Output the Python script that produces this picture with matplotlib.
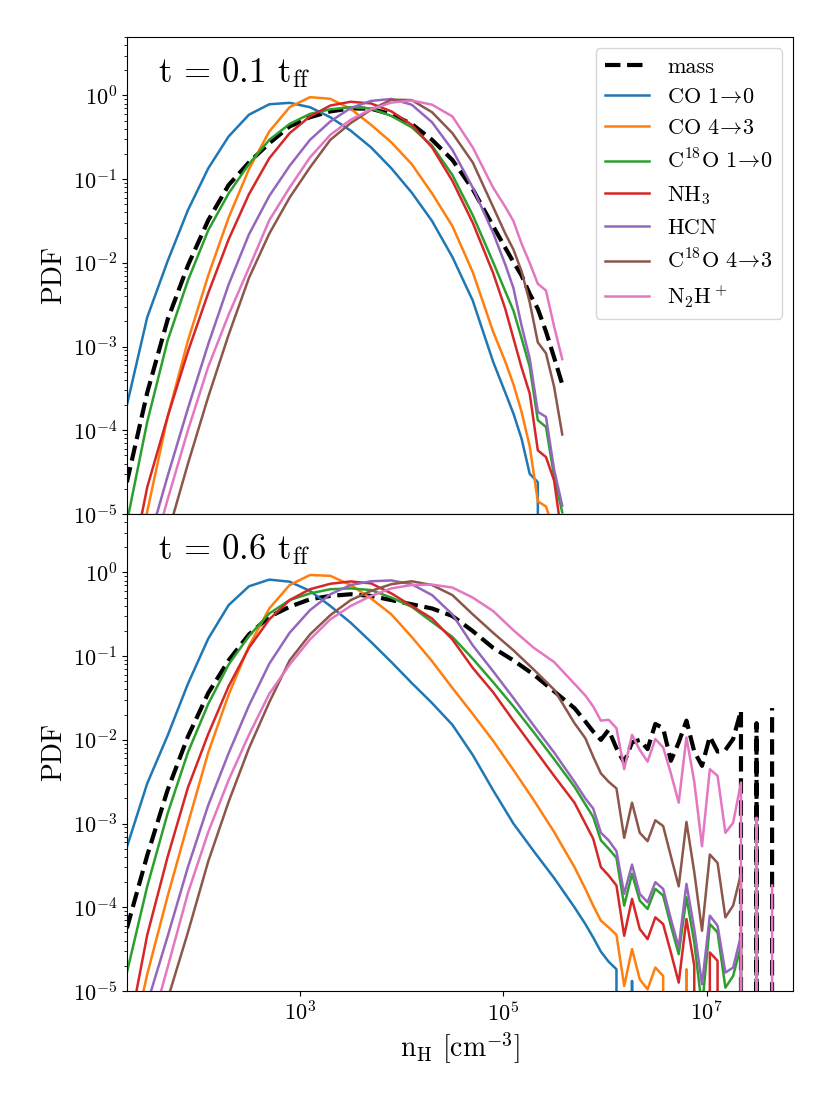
import numpy as np
import matplotlib.pyplot as plt
from matplotlib.ticker import FixedLocator, NullLocator

plt.rcParams['font.family'] = 'serif'
plt.rcParams['font.serif'] = ['cmr10']
plt.rcParams['mathtext.fontset'] = 'cm'
plt.rcParams['axes.formatter.use_mathtext'] = True

NEG = -np.inf  # empty bin

# ---- data: log10 of n_H (bin centres) and log10 of PDF ----
logn_top = [1.3, 1.5, 1.7, 1.9, 2.1, 2.3, 2.5, 2.7, 2.9, 3.1, 3.3, 3.5, 3.7, 3.9,
            4.1, 4.3, 4.5, 4.7, 4.9, 5.02, 5.10, 5.18, 5.26, 5.34, 5.42, 5.50, 5.58]

mass_top = [-4.62, -3.55, -2.68, -2.03, -1.49, -1.07, -0.80, -0.57, -0.37, -0.26, -0.19, -0.155, -0.158, -0.225,
            -0.34, -0.53, -0.77, -1.12, -1.56, -1.82, -1.99, -2.15, -2.37, -2.55, -2.82, -3.13, -3.45]
co10_top = [-3.70, -2.65, -1.98, -1.37, -0.87, -0.49, -0.23, -0.105, -0.088, -0.14, -0.26, -0.42, -0.62, -0.87,
            -1.16, -1.50, -1.93, -2.45, -3.18, -3.55, -3.80, -4.10, -4.52, -4.62, NEG, NEG, NEG]
co43_top = [-6.1, -4.97, -3.84, -2.93, -2.15, -1.46, -0.88, -0.43, -0.14, -0.02, -0.04, -0.16, -0.35, -0.56,
            -0.82, -1.17, -1.56, -2.11, -2.82, -3.18, -3.45, -3.78, -4.19, -4.85, -4.91, -5.2, NEG]
c18o10_top = [-5.1, -3.9, -2.93, -2.21, -1.61, -1.17, -0.82, -0.53, -0.34, -0.22, -0.165, -0.14, -0.155, -0.245,
              -0.38, -0.6, -0.95, -1.43, -1.99, -2.34, -2.57, -2.9, -3.24, -3.88, -3.96, -4.55, -4.98]
nh3_top = [-5.9, -4.68, -3.84, -3.06, -2.36, -1.72, -1.18, -0.75, -0.45, -0.25, -0.12, -0.075, -0.095, -0.19,
           -0.35, -0.62, -1.02, -1.52, -2.12, -2.55, -2.9, -3.25, -3.56, -4.24, -4.32, -4.6, -5.3]
hcn_top = [-6.6, -5.4, -4.55, -3.74, -2.97, -2.26, -1.66, -1.2, -0.84, -0.53, -0.31, -0.15, -0.065, -0.042,
           -0.11, -0.32, -0.65, -1.1, -1.64, -2.02, -2.3, -2.75, -3.14, -3.78, -3.84, -4.47, -4.9]
c18o43_top = [-7.2, -6.2, -5.25, -4.4, -3.6, -2.86, -2.18, -1.65, -1.22, -0.86, -0.53, -0.33, -0.17, -0.05,
              -0.055, -0.2, -0.45, -0.8, -1.33, -1.65, -1.84, -2.1, -2.47, -2.95, -3.08, -3.48, -4.05]
n2hp_top = [-7.0, -5.7, -4.83, -4.0, -3.24, -2.62, -2.06, -1.49, -1.1, -0.74, -0.47, -0.29, -0.165, -0.085,
            -0.06, -0.11, -0.25, -0.62, -1.1, -1.33, -1.5, -1.77, -2.0, -2.25, -2.33, -2.76, -3.15]

logn_bot = [1.3, 1.5, 1.7, 1.9, 2.1, 2.3, 2.5, 2.7, 2.9, 3.1, 3.3, 3.5, 3.7, 3.9,
            4.1, 4.3, 4.5, 4.7, 4.9, 5.1, 5.3, 5.5, 5.7,
            5.807, 5.884, 5.960, 6.036, 6.113, 6.189, 6.266, 6.342, 6.419, 6.495, 6.572, 6.648, 6.725,
            6.801, 6.878, 6.954, 7.031, 7.107, 7.184, 7.260, 7.337, 7.413, 7.490, 7.566, 7.643]

mass_bot = [-4.25, -3.38, -2.6, -1.96, -1.44, -1.05, -0.74, -0.53, -0.41, -0.32, -0.28, -0.26, -0.28, -0.33,
            -0.38, -0.43, -0.52, -0.70, -0.9, -1.05, -1.22, -1.42, -1.62,
            -1.78, -1.9, -2.0, -1.88, -2.1, -2.27, -2.03, -2.0, -2.11, -1.81, -1.86, -2.25, -2.03,
            -1.77, -2.14, -2.31, -1.96, -2.14, -2.12, -1.99, -1.65, NEG, -1.8, NEG, -1.62]
co10_bot = [-3.28, -2.52, -1.95, -1.33, -0.79, -0.39, -0.165, -0.085, -0.11, -0.22, -0.40, -0.60, -0.83, -1.07,
            -1.32, -1.56, -1.82, -2.18, -2.6, -3.0, -3.33, -3.65, -4.0,
            -4.2, -4.36, -4.53, -4.65, -4.74, NEG, -4.88, NEG, NEG, NEG, NEG, NEG, NEG,
            NEG, NEG, NEG, NEG, NEG, NEG, NEG, NEG, NEG, NEG, NEG, NEG]
co43_bot = [-5.9, -4.8, -3.87, -3.0, -2.15, -1.46, -0.88, -0.43, -0.15, -0.03, -0.04, -0.15, -0.31, -0.5,
            -0.77, -1.06, -1.38, -1.69, -2.01, -2.36, -2.72, -3.1, -3.52,
            -3.78, -3.98, -4.16, -4.24, -4.33, -4.94, -4.5, -4.86, -4.98, -4.72, -4.82, NEG, NEG,
            -4.74, NEG, NEG, NEG, NEG, NEG, NEG, NEG, NEG, NEG, NEG, NEG]
c18o10_bot = [-4.78, -3.75, -2.88, -2.15, -1.57, -1.1, -0.76, -0.49, -0.33, -0.25, -0.2, -0.19, -0.21, -0.3,
              -0.41, -0.59, -0.77, -1.03, -1.31, -1.6, -1.91, -2.23, -2.56,
              -2.77, -2.92, -3.2, -3.3, -3.41, -3.98, -3.6, -3.92, -4.02, -3.78, -3.86, -4.22, -4.56,
              -3.88, -4.42, -5.2, -4.2, -4.3, -4.96, -4.82, -4.46, NEG, NEG, NEG, NEG]
nh3_bot = [-5.6, -4.33, -3.4, -2.57, -1.93, -1.36, -0.9, -0.56, -0.33, -0.2, -0.135, -0.107, -0.13, -0.25,
           -0.4, -0.55, -0.8, -1.14, -1.43, -1.77, -2.1, -2.43, -2.75,
           -3.0, -3.18, -3.52, -3.62, -3.74, -4.34, -3.9, -4.26, -4.38, -4.12, -4.2, -4.54, -4.9,
           -4.14, -4.7, NEG, -4.54, -4.64, NEG, -5.2, NEG, NEG, NEG, NEG, NEG]
hcn_bot = [-6.2, -5.15, -4.35, -3.52, -2.78, -2.16, -1.59, -1.09, -0.72, -0.45, -0.26, -0.15, -0.105, -0.095,
           -0.14, -0.27, -0.5, -0.87, -1.18, -1.5, -1.83, -2.15, -2.5,
           -2.7, -2.82, -3.11, -3.2, -3.33, -3.84, -3.49, -3.84, -3.94, -3.70, -3.78, -4.14, -4.48,
           -3.72, -4.26, -4.92, -4.10, -4.22, -4.78, -4.72, -4.34, NEG, NEG, NEG, NEG]
c18o43_bot = [-7.0, -6.0, -5.1, -4.3, -3.45, -2.74, -2.1, -1.55, -1.05, -0.74, -0.51, -0.33, -0.22, -0.14,
              -0.105, -0.15, -0.27, -0.5, -0.72, -0.93, -1.16, -1.4, -1.8,
              -1.98, -2.2, -2.4, -2.5, -2.58, -3.17, -2.75, -3.11, -3.21, -2.96, -3.03, -3.39, -3.75,
              -2.98, -3.58, -4.28, -3.37, -3.47, -4.12, -3.98, -3.6, NEG, NEG, NEG, NEG]
n2hp_bot = [-6.5, -5.6, -4.72, -3.83, -3.1, -2.48, -1.94, -1.45, -1.1, -0.8, -0.56, -0.4, -0.28, -0.19,
            -0.15, -0.145, -0.18, -0.3, -0.46, -0.69, -0.9, -1.07, -1.33,
            -1.47, -1.6, -1.77, -1.76, -1.86, -2.35, -1.94, -2.12, -2.26, -1.99, -2.09, -2.4, -2.75,
            -1.97, -2.5, -3.27, -2.35, -2.43, -3.11, -2.99, -2.51, NEG, -2.93, NEG, -3.74]

times = ['0.1', '0.6']
labels = ['mass', r'CO $1\!\rightarrow\!0$', r'CO $4\!\rightarrow\!3$',
          r'C$^{18}$O $1\!\rightarrow\!0$', r'NH$_3$', 'HCN',
          r'C$^{18}$O $4\!\rightarrow\!3$', r'N$_2$H$^+$']
colors = ['k', 'C0', 'C1', 'C2', 'C3', 'C4', 'C5', 'C6']
xticks = [1e3, 1e5, 1e7]

panels = [
    (logn_top, [mass_top, co10_top, co43_top, c18o10_top, nh3_top, hcn_top, c18o43_top, n2hp_top]),
    (logn_bot, [mass_bot, co10_bot, co43_bot, c18o10_bot, nh3_bot, hcn_bot, c18o43_bot, n2hp_bot]),
]

fig, axes = plt.subplots(2, 1, sharex=True, figsize=(8.3, 11.07), dpi=100)
fig.subplots_adjust(left=0.153, right=0.955, top=0.9666, bottom=0.1048, hspace=0)

for ax, (logn, series), t in zip(axes, panels, times):
    n = 10.0 ** np.array(logn)
    for vals, lab, col in zip(series, labels, colors):
        pdf = 10.0 ** np.array(vals)
        if lab == 'mass':
            ax.plot(n, pdf, color=col, ls='--', lw=3, label=lab)
        else:
            ax.plot(n, pdf, color=col, lw=1.8, label=lab)
    ax.set_xscale('log')
    ax.set_yscale('log')
    ax.set_xlim(20, 7e7)
    ax.set_ylim(1e-5, 5)
    ax.xaxis.set_major_locator(FixedLocator(xticks))
    ax.xaxis.set_minor_locator(NullLocator())
    ax.set_ylabel('PDF', fontsize=20)
    ax.tick_params(labelsize=16)
    ax.text(0.047, 0.925, 't = ' + t + r' t$_{\rm ff}$', transform=ax.transAxes,
            fontsize=25, va='center', ha='left')

axes[0].legend(loc='upper right', fontsize=16)
axes[1].set_xlabel(r'n$_{\rm H}$ [cm$^{-3}$]', fontsize=20)

plt.savefig('out.png', dpi=100, facecolor='white')
